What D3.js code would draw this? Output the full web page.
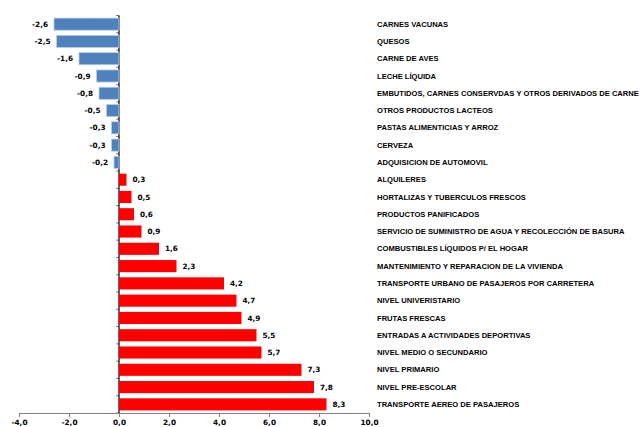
<!DOCTYPE html>
<html>
<head>
<meta charset="utf-8">
<script src="https://cdn.jsdelivr.net/npm/d3@7"></script>
<style>
  body { margin: 0; background: #fff; }
  svg { display: block; }
</style>
</head>
<body>
<svg id="chart" width="641" height="427"></svg>
<script>
// categorias (de arriba hacia abajo)
const categories = [
  "CARNES VACUNAS", "QUESOS", "CARNE DE AVES", "LECHE LÍQUIDA",
  "EMBUTIDOS, CARNES CONSERVDAS Y OTROS DERIVADOS DE CARNE",
  "OTROS PRODUCTOS LACTEOS", "PASTAS ALIMENTICIAS Y ARROZ", "CERVEZA",
  "ADQUISICION DE AUTOMOVIL", "ALQUILERES", "HORTALIZAS Y TUBERCULOS FRESCOS",
  "PRODUCTOS PANIFICADOS",
  "SERVICIO DE SUMINISTRO DE AGUA Y RECOLECCIÓN DE BASURA",
  "COMBUSTIBLES LÍQUIDOS P/ EL HOGAR", "MANTENIMIENTO Y REPARACION DE LA VIVIENDA",
  "TRANSPORTE URBANO DE PASAJEROS POR CARRETERA", "NIVEL UNIVERISTARIO",
  "FRUTAS FRESCAS", "ENTRADAS A ACTIVIDADES DEPORTIVAS", "NIVEL MEDIO O SECUNDARIO",
  "NIVEL PRIMARIO", "NIVEL PRE-ESCOLAR", "TRANSPORTE AEREO DE PASAJEROS"
];
const values = [
  -2.6, -2.5, -1.6, -0.9, -0.8, -0.5, -0.3, -0.3, -0.2,
  0.3, 0.5, 0.6, 0.9, 1.6, 2.3, 4.2, 4.7, 4.9, 5.5, 5.7, 7.3, 7.8, 8.3
];
const xTicks = [-4, -2, 0, 2, 4, 6, 8, 10];

const data = categories.map((c, i) => ({ cat: c, val: values[i] }));
const fmt = v => d3.format(".1f")(v).replace(".", ",").replace("\u2212", "-");

const svg = d3.select("#chart");

const x = d3.scaleLinear().domain([-4, 10]).range([19, 369]);
const y = d3.scaleBand().domain(categories).range([15.5, 413]).paddingInner(0.3).paddingOuter(0.15);

// eje Y (linea en cero, marcas en los limites de cada categoria)
const yAxisG = svg.append("g");
const step = y.step();
const bounds = d3.range(categories.length + 1).map(i => 15.5 + i * step);
yAxisG.selectAll("line.tk")
  .data(bounds)
  .enter().append("line")
  .attr("x1", x(0) - 3).attr("x2", x(0))
  .attr("y1", d => d).attr("y2", d => d)
  .style("stroke", "#808080").style("stroke-width", 1);

// barras
svg.selectAll("rect.bar")
  .data(data)
  .enter().append("rect")
  .attr("class", "bar")
  .attr("x", d => x(Math.min(0, d.val)))
  .attr("y", d => y(d.cat))
  .attr("width", d => Math.abs(x(d.val) - x(0)))
  .attr("height", y.bandwidth())
  .style("fill", d => d.val < 0 ? "#4F81BD" : "#FF0000")
  .style("stroke", d => d.val < 0 ? "#B9CDE5" : "none")
  .style("stroke-width", 0.8);

// eje X
const xAxis = d3.axisBottom(x).tickValues(xTicks).tickFormat(fmt).tickSize(4).tickPadding(3);
const xg = svg.append("g")
  .attr("transform", "translate(0,413)")
  .call(xAxis);
xg.select(".domain").style("stroke", "#808080");
xg.selectAll(".tick line").style("stroke", "#808080");
xg.selectAll("text")
  .style("font-family", "DejaVu Sans")
  .style("font-weight", "bold")
  .style("font-size", "7.3px")
  .style("fill", "#000");

yAxisG.append("line")
  .attr("x1", x(0)).attr("x2", x(0))
  .attr("y1", 15.5).attr("y2", 413)
  .style("stroke", "#000").style("stroke-width", 1.2);

// etiquetas de valores
svg.selectAll("text.val")
  .data(data)
  .enter().append("text")
  .attr("class", "val")
  .attr("x", d => d.val < 0 ? x(d.val) - 6 : x(d.val) + 6)
  .attr("y", d => y(d.cat) + y.bandwidth() / 2)
  .attr("dy", "0.35em")
  .attr("text-anchor", d => d.val < 0 ? "end" : "start")
  .style("font-family", "DejaVu Sans")
  .style("font-weight", "bold")
  .style("font-size", "7.3px")
  .style("fill", "#000")
  .text(d => fmt(d.val));

// nombres de categorias a la derecha
svg.selectAll("text.cat")
  .data(data)
  .enter().append("text")
  .attr("class", "cat")
  .attr("x", 377)
  .attr("y", d => y(d.cat) + y.bandwidth() / 2)
  .attr("dy", "0.35em")
  .style("font-family", "Liberation Sans")
  .style("font-weight", "bold")
  .style("font-size", "7.6px")
  .style("fill", "#000")
  .text(d => d.cat);
</script>
</body>
</html>
